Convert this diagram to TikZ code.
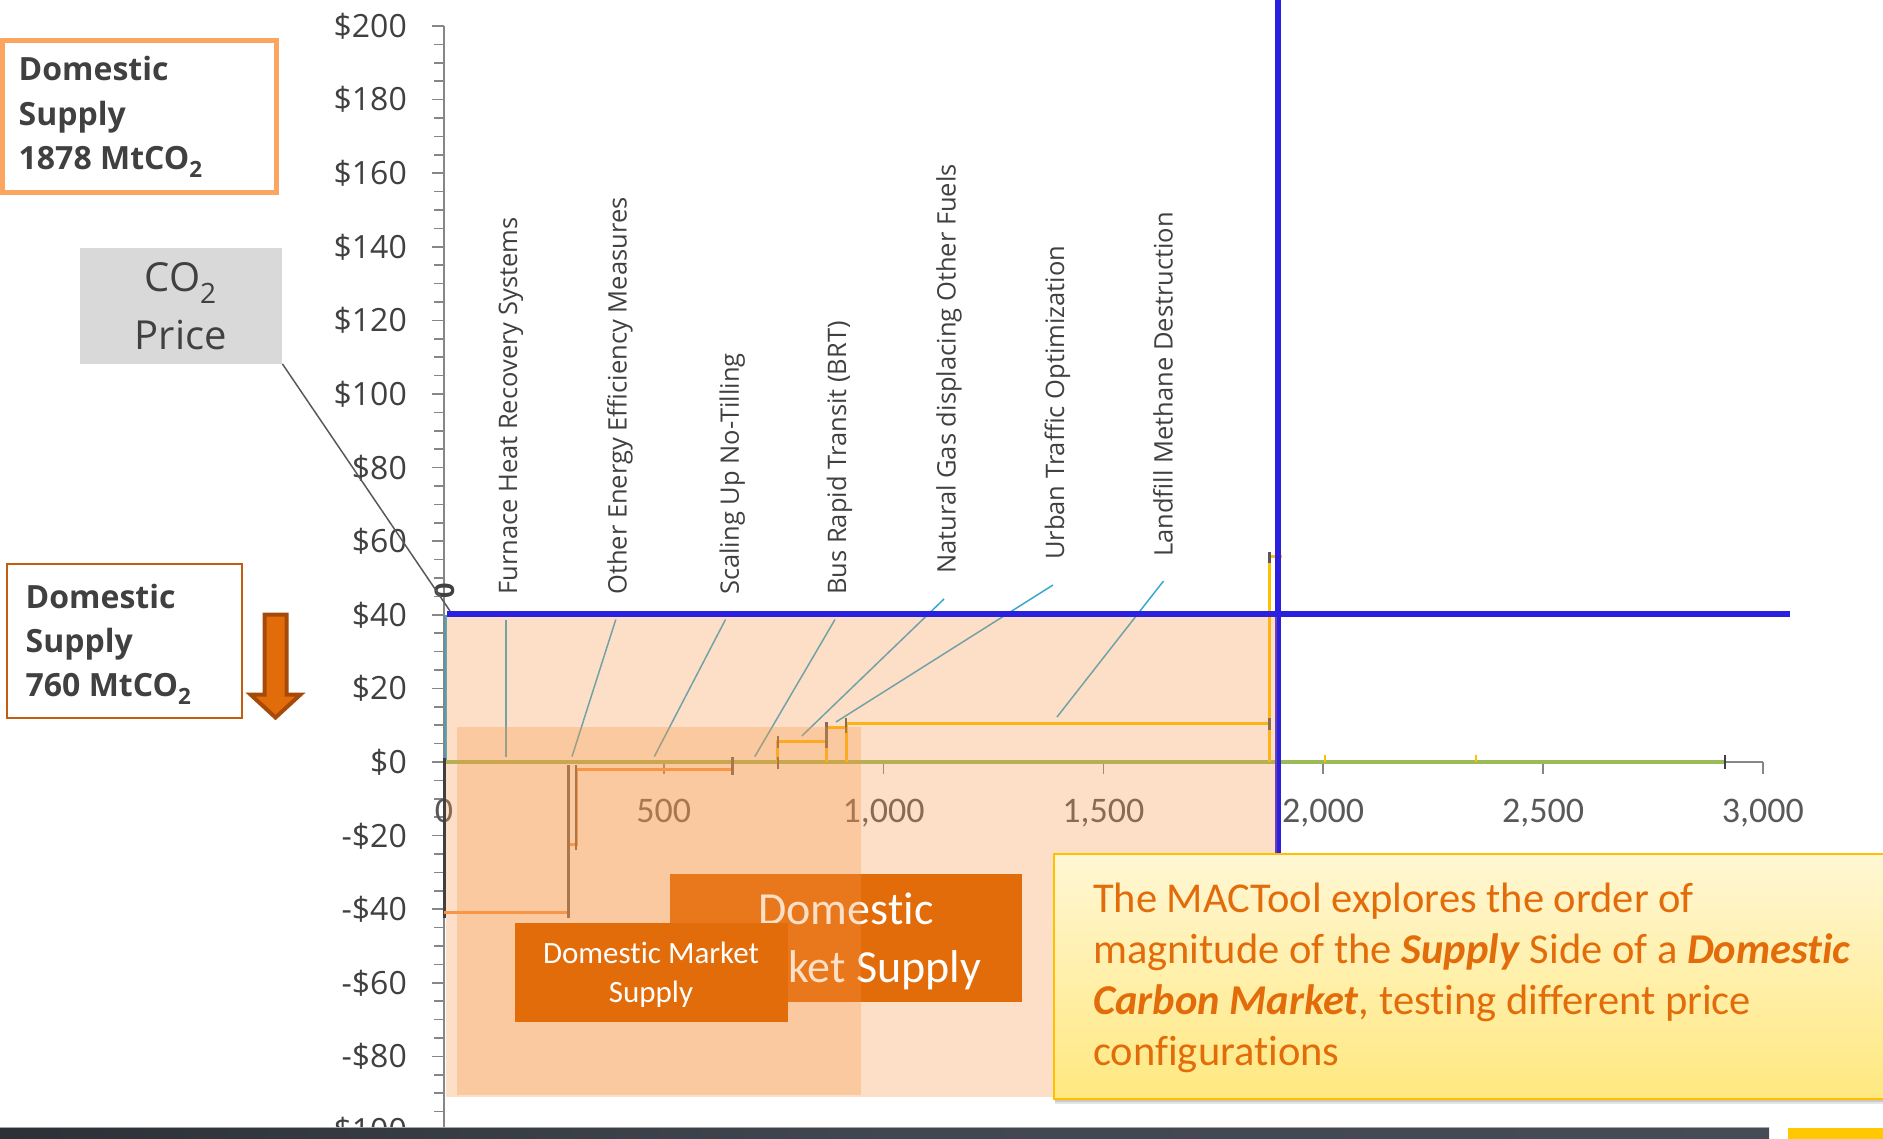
\documentclass[tikz,border=0pt]{standalone}
\usepackage{fontspec}
\setmainfont{Open Sans}
\newfontfamily\carl[Ligatures=NoCommon]{Carlito}
\usetikzlibrary{calc}

\definecolor{axisgrey}{RGB}{134,134,134}
\definecolor{txtgrey}{RGB}{64,64,64}
\definecolor{lblgrey}{RGB}{89,89,89}
\definecolor{peach}{RGB}{247,150,70}
\definecolor{deeporange}{RGB}{227,108,10}
\definecolor{capblue}{RGB}{43,31,224}
\definecolor{leadcyan}{RGB}{56,168,208}
\definecolor{greenline}{RGB}{155,187,89}
\definecolor{goldline}{RGB}{255,192,0}
\definecolor{boxorange}{RGB}{250,166,96}
\definecolor{boxbrown}{RGB}{197,90,17}
\definecolor{arrowedge}{RGB}{166,74,10}
\definecolor{pricegrey}{RGB}{217,217,217}
\definecolor{barsteel}{RGB}{44,49,56}
\definecolor{barsteellight}{RGB}{70,76,86}
\definecolor{noteyellowtop}{RGB}{255,247,212}
\definecolor{noteyellowbot}{RGB}{255,232,128}
\definecolor{noteedge}{RGB}{255,192,0}
\definecolor{tabyellow}{RGB}{255,200,0}

\begin{document}
\begin{tikzpicture}[x=1pt,y=-1pt,
  axisline/.style={draw=axisgrey,line width=1.5pt},
  ylab/.style={font=\fontsize{32}{38}\selectfont,text=txtgrey,inner sep=0pt,anchor=base east},
  xlab/.style={font=\carl\fontsize{36}{42}\selectfont,text=lblgrey,inner sep=0pt,anchor=base},
  catlab/.style={font=\fontsize{25.5}{30}\selectfont,text=txtgrey,inner sep=0pt,rotate=90,anchor=base west},
  leader/.style={draw=leadcyan,line width=1.5pt},
  errbar/.style={draw=lblgrey,line width=2.5pt},
  stepneg/.style={draw=peach,line width=3pt,line join=miter},
  steppos/.style={draw=goldline,line width=3pt,line join=miter},
  overlay/.style={fill=peach,fill opacity=0.3},
  boxtxt/.style={font=\bfseries\fontsize{32}{38}\selectfont,text=txtgrey,inner sep=0pt,anchor=base west},
  notetxt/.style={font=\carl\fontsize{42.5}{51}\selectfont,text=deeporange,inner sep=0pt,anchor=base west},
  whitetxt/.style={text=white,inner sep=0pt,anchor=base}]

\useasboundingbox (0,0) rectangle (1883,1139);
\clip (0,0) rectangle (1883,1139);

% ---------- leader lines from the measure labels to their bars
\coordinate (fhA) at (506,620);    \coordinate (fhB) at (506,757);
\coordinate (oeA) at (615.8,619.5);\coordinate (oeB) at (572,756.6);
\coordinate (suA) at (725.5,619.5);\coordinate (suB) at (654.3,756.6);
\coordinate (brA) at (835,619.5);  \coordinate (brB) at (754.8,756.6);
\coordinate (ngA) at (944,599);    \coordinate (ngB) at (801.8,736);
\coordinate (utA) at (1053,585);   \coordinate (utB) at (836,722);
\coordinate (lmA) at (1163.5,581); \coordinate (lmB) at (1057,717);
\foreach \p in {fh,oe,su,br,ng,ut,lm}{\draw[leader] (\p A) -- (\p B);}

% ---------- vertical (price) axis
\draw[axisline] (444,26) -- (444,1133);
\foreach \v in {-100,-95,...,200}{
  \draw[axisline] (434,{762-3.68*\v}) -- (444,{762-3.68*\v});}
\foreach \v in {-100,-80,...,200}{
  \draw[axisline] (432,{762-3.68*\v}) -- (444,{762-3.68*\v});}
\foreach \v/\t [count=\i] in {200/\$200,180/\$180,160/\$160,140/\$140,120/\$120,100/\$100,
   80/\$80,60/\$60,40/\$40,20/\$20,0/\$0,-20/-\$20,-40/-\$40,-60/-\$60,-80/-\$80,-100/-\$100}{
  \node[ylab] (ylab\i) at (407,{762-3.68*\v+11.4}) {\t};}

% ---------- horizontal (quantity) axis
\draw[axisline] (444,762) -- (1762.8,762);
\foreach \u/\t [count=\i] in {0/0,500/500,1000/{1,000},1500/{1,500},2000/{2,000},2500/{2,500},3000/{3,000}}{
  \draw[axisline] ({444+0.4396*\u},762) -- ({444+0.4396*\u},774);
  \node[xlab] (xlab\i) at ({444+0.4396*\u},822) {\t};}

% ---------- zero-cost line and first bar edge
\draw[draw=leadcyan,line width=2pt] (445.5,615) -- (445.5,762);
\draw[draw=greenline,line width=4pt] (444,762) -- (1724,762);
\draw[draw=goldline,line width=2pt] (1325,755) -- (1325,762);
\draw[draw=goldline,line width=2pt] (1476,755) -- (1476,762);
\draw[draw=txtgrey,line width=2pt] (1725,755) -- (1725,769);

% ---------- marginal abatement cost steps
\draw[draw=txtgrey,line width=3pt] (444,758) -- (444,918);
\draw[stepneg] (444,912.3) -- (568.3,912.3) -- (568.3,844.3) -- (576,844.3) -- (576,769.3) -- (732.7,769.3);
\draw[errbar] (568.3,765) -- (568.3,918);
\draw[errbar] (576,765) -- (576,850);
\draw[errbar] (732.7,757) -- (732.7,775);
\draw[steppos] (777.7,762) -- (777.7,741.7) -- (826.3,741.7);
\draw[steppos] (826.3,762) -- (826.3,727.7) -- (846,727.7);
\draw[steppos] (846,762) -- (846,723.3) -- (1269.3,723.3);
\draw[steppos] (1269.3,762) -- (1269.3,556.7) -- (1281.7,556.7);
\draw[errbar] (778,736) -- (778,748);
\draw[errbar] (778,757) -- (778,769);
\draw[errbar] (826.3,722) -- (826.3,748);
\draw[errbar] (846,718) -- (846,733);
\draw[errbar] (1269.3,552) -- (1269.3,563);
\draw[errbar] (1269.3,718) -- (1269.3,730);

% ---------- supply quantity line
\draw[draw=capblue,line width=6pt] (1277.7,0) -- (1277.7,860);

% ---------- shaded supply areas and market supply tags
\fill[overlay] (446,617) rectangle (1277.3,1097);
\node[fill=deeporange,inner sep=0pt,minimum width=352pt,minimum height=127.5pt,anchor=north west] (bigtag) at (670,874) {};
\node[whitetxt,font=\carl\fontsize{46}{56}\selectfont] (bigtag1) at (846,924) {Domestic};
\node[whitetxt,font=\carl\fontsize{46}{56}\selectfont] (bigtag2) at (846,982) {Market Supply};
\fill[overlay] (457,726.7) rectangle (861,1094.7);
\node[fill=deeporange,inner sep=0pt,minimum width=273pt,minimum height=99pt,anchor=north west] (smalltag) at (515,923) {};
\node[whitetxt,font=\carl\fontsize{31}{38}\selectfont] (smalltag1) at (651,963.2) {Domestic Market};
\node[whitetxt,font=\carl\fontsize{31}{38}\selectfont] (smalltag2) at (651,1002.7) {Supply};

% ---------- carbon price line
\draw[draw=capblue,line width=6pt] (447,614.3) -- (1790,614.3);

% ---------- measure labels
\node[font=\bfseries\fontsize{27}{30}\selectfont,text=txtgrey,rotate=90,inner sep=0pt] (zero) at (445,591) {0};
\node[catlab] (fhL) at (517,595) {Furnace Heat Recovery Systems};
\node[catlab] (oeL) at (626.6,595) {Other Energy Efficiency Measures};
\node[catlab] (suL) at (738.9,595) {Scaling Up No-Tilling};
\node[catlab] (brL) at (846,595) {Bus Rapid Transit (BRT)};
\node[catlab] (ngL) at (955.7,574) {Natural Gas displacing Other Fuels};
\node[catlab] (utL) at (1064,560) {Urban Traffic Optimization};
\node[catlab] (lmL) at (1172.5,557) {Landfill Methane Destruction};

% ---------- CO2 price callout
\node[fill=pricegrey,inner sep=0pt,minimum width=202.5pt,minimum height=115.5pt,anchor=north west] (pricebox) at (79.5,248) {};
\node[font=\fontsize{40}{48}\selectfont,text=txtgrey,inner sep=0pt,anchor=base] (price1) at (180.7,292) {CO\textsubscript{2}};
\node[font=\fontsize{40}{48}\selectfont,text=txtgrey,inner sep=0pt,anchor=base] (price2) at (180.7,350) {Price};
\coordinate (pricetip) at (450,611);
\draw[draw=lblgrey,line width=1.5pt] (pricebox.south east) -- (pricetip);

% ---------- supply boxes
\node[draw=boxorange,line width=5pt,inner sep=0pt,minimum width=274pt,minimum height=152pt,anchor=north west] (supbox1) at (0,38.5) {};
\node[boxtxt] (sup1a) at (18.5,80.8) {Domestic};
\node[boxtxt] (sup1b) at (18.5,126) {Supply};
\node[boxtxt] (sup1c) at (18.5,170) {1878 MtCO\textsubscript{2}};

\node[draw=boxbrown,line width=2pt,inner sep=0pt,minimum width=235pt,minimum height=154pt,anchor=north west] (supbox2) at (6,563) {};
\node[boxtxt] (sup2a) at (25.5,608) {Domestic};
\node[boxtxt] (sup2b) at (25.5,652.7) {Supply};
\node[boxtxt] (sup2c) at (25.5,696.6) {760 MtCO\textsubscript{2}};

\draw[fill=deeporange,draw=arrowedge,line width=4pt,line join=miter]
  (264.5,614.5) -- (286.5,614.5) -- (286.5,694.5) -- (300.5,694.5) -- (275.5,717.5)
  -- (250.5,694.5) -- (264.5,694.5) -- cycle;

% ---------- note
\fill[black,opacity=0.10] (1055,858) rectangle (1890,1104);
\fill[black,opacity=0.12] (1055,858) rectangle (1890,1101.5);
\shade[top color=noteyellowtop,bottom color=noteyellowbot] (1053.5,854) rectangle (1890,1098.5);
\draw[draw=noteedge,line width=2pt] (1890,854) -- (1053.5,854) -- (1053.5,1098.5) -- (1890,1098.5);
\node[notetxt] (note1) at (1093,912.5) {The MACTool explores the order of};
\node[notetxt] (note2) at (1093,963) {magnitude of the \textbf{\textit{Supply}} Side of a \textbf{\textit{Domestic}}};
\node[notetxt] (note3) at (1093,1014) {\textbf{\textit{Carbon Market}}, testing different price};
\node[notetxt] (note4) at (1093,1065) {configurations};

% ---------- footer band
\shade[left color=barsteel,right color=barsteellight,middle color=barsteellight!80!barsteel] (0,1127) rectangle (1769,1139);
\draw[draw=gray!70,line width=1pt] (0,1127.5) -- (1769,1127.5);
\fill[tabyellow] (1787.5,1128) rectangle (1883,1139);
\end{tikzpicture}
\end{document}
